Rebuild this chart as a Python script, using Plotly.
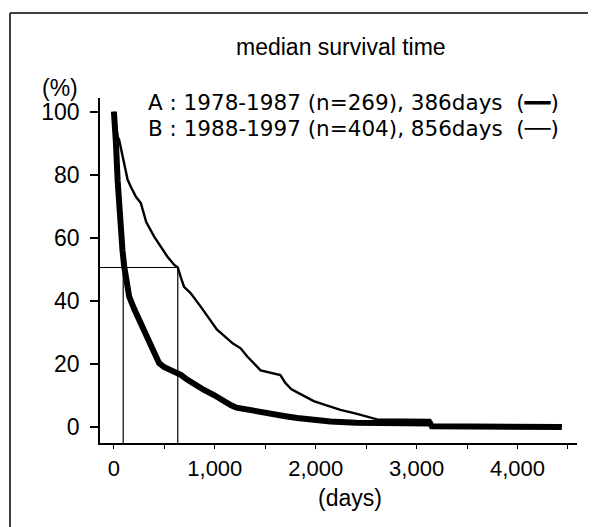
import plotly.graph_objects as go

# ---- data ----
a_days = [0, 10, 20, 37, 62, 85, 102, 125, 151, 200, 250, 300, 350, 400, 448, 500, 596, 663, 729,
          828, 893, 992, 1058, 1157, 1214, 1322, 1450, 1586, 1700, 1817, 1950, 2146, 2400, 2600,
          3135, 3150, 3550, 3560, 4440]
a_pct = [100, 97, 90, 78, 61.5, 56, 50.9, 45, 41.4, 37.5, 34, 30, 26.6, 23, 20.3, 19, 17.6, 16.6, 15,
         12.9, 11.8, 10.2, 8.7, 7, 6.2, 5.7, 5, 4.4, 3.5, 2.9, 2.3, 1.8, 1.4, 1.3,
         1.2, 0.3, 0.3, 0.1, 0.1]

b_days = [0, 20, 37, 52, 90, 136, 170, 218, 267, 320, 399, 465, 531, 596, 633, 663, 695, 760, 828,
          860, 1020, 1180, 1256, 1322, 1454, 1540, 1650, 1700, 1760, 1850, 1981, 2100, 2245, 2400,
          2509, 2608, 3135, 3150, 4440]
b_pct = [100, 95, 92, 91, 85, 78.4, 76, 73, 71, 65, 60.4, 57.2, 54, 51.5, 50.6, 47.5, 44.5, 42.5, 39.3,
         38.2, 31, 26.5, 25, 22.4, 18, 17.3, 16.5, 14, 12, 10.5, 8.3, 7, 5.5, 4.3,
         3.4, 2.5, 2.3, 0.6, 0.5]

median_level = 50.6
median_a_day = 92
median_b_day = 633

x_tickvals = [0, 500, 1000, 1500, 2000, 2500, 3000, 3500, 4000, 4500]
x_ticktext = ["0", "", "1,000", "", "2,000", "", "3,000", "", "4,000", ""]
y_tickvals = [0, 20, 40, 60, 80, 100]
y_ticktext = ["0", "20", "40", "60", "80", "100"]

title_text = "median survival time"
legend_a = "A : 1978-1987 (n=269), 386days  (\u2501\u2501)"
legend_b = "B : 1988-1997 (n=404), 856days  (\u2500\u2500)"

# ---- layout geometry (page pixels; the page body adds an 8px offset) ----
OFF = 8
W, H = 596 - OFF, 527 - OFF
PL, PR, PT, PB = 100, 577, 98, 443          # plot area edges on the page
L, R, T, B = PL - OFF, W - (PR - OFF), PT - OFF, H - (PB - OFF)
X0, X1 = -138, 4590
Y0, Y1 = -5, 104.3
pw, ph = W - L - R, H - T - B

def px(x):
    return (x - OFF - L) / pw

def py(y):
    return (H - B - (y - OFF)) / ph

FONT = "Liberation Sans, Arial, Helvetica, sans-serif"
WIDE = "DejaVu Sans, Liberation Sans, sans-serif"

fig = go.Figure()
fig.add_trace(go.Scatter(x=b_days, y=b_pct, mode="lines",
                         line=dict(color="black", width=2.4), showlegend=False))
fig.add_trace(go.Scatter(x=a_days, y=a_pct, mode="lines",
                         line=dict(color="black", width=6), showlegend=False))

# median guide lines
fig.add_shape(type="line", x0=X0, x1=median_b_day, y0=median_level, y1=median_level,
              line=dict(color="black", width=1.2))
fig.add_shape(type="line", x0=median_a_day, x1=median_a_day, y0=Y0, y1=median_level,
              line=dict(color="black", width=1.2))
fig.add_shape(type="line", x0=median_b_day, x1=median_b_day, y0=Y0, y1=median_level,
              line=dict(color="black", width=1.2))

# outer frame of the scanned figure
fig.add_shape(type="line", xref="paper", yref="paper", x0=px(10), x1=px(600), y0=py(13), y1=py(13),
              line=dict(color="black", width=1.5))
fig.add_shape(type="line", xref="paper", yref="paper", x0=px(10), x1=px(10), y0=py(13), y1=py(530),
              line=dict(color="black", width=1.5))

ann = [
    dict(text=title_text, x=px(341), y=py(47), xanchor="center", size=23, fam=FONT),
    dict(text=legend_a, x=px(146), y=py(103), xanchor="left", size=21.5, fam=WIDE),
    dict(text=legend_b, x=px(146), y=py(128), xanchor="left", size=21.5, fam=WIDE),
    dict(text="(%)", x=px(60), y=py(88), xanchor="center", size=23, fam=FONT),
    dict(text="(days)", x=px(350), y=py(498), xanchor="center", size=23, fam=FONT),
]
for a in ann:
    fig.add_annotation(text=a["text"], x=a["x"], y=a["y"], xref="paper", yref="paper",
                       xanchor=a["xanchor"], yanchor="middle", showarrow=False,
                       font=dict(family=a["fam"], size=a["size"], color="black"))

fig.update_layout(
    width=W, height=H,
    margin=dict(l=L, r=R, t=T, b=B),
    paper_bgcolor="white", plot_bgcolor="white",
    font=dict(family=FONT, color="black"),
    showlegend=False,
)
fig.update_xaxes(range=[X0, X1], showgrid=False, zeroline=False, showline=True,
                 linecolor="black", linewidth=1.5, ticks="outside", ticklen=4, tickwidth=1,
                 tickcolor="black", tickvals=x_tickvals, ticktext=x_ticktext,
                 tickfont=dict(family=FONT, size=22, color="black"), ticklabelstandoff=1)
fig.update_yaxes(range=[Y0, Y1], showgrid=False, zeroline=False, showline=True,
                 linecolor="black", linewidth=1.5, ticks="outside", ticklen=8, tickwidth=1.5,
                 tickcolor="black", tickvals=y_tickvals, ticktext=y_ticktext,
                 tickfont=dict(family=FONT, size=23, color="black"), ticklabelstandoff=6)

fig.write_html("out.html")
